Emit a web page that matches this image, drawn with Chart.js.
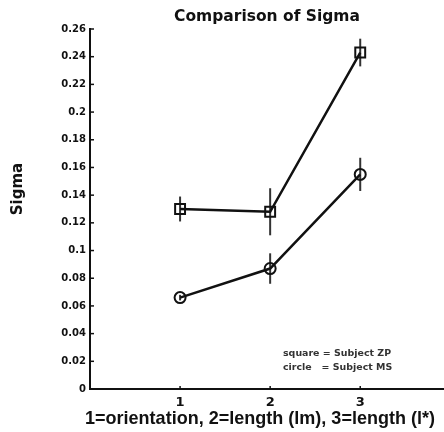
<!DOCTYPE html>
<html>
<head>
<meta charset="utf-8">
<script src="https://cdn.jsdelivr.net/npm/chart.js@4.4.1/dist/chart.umd.min.js"></script>
<style>
  html, body { margin: 0; padding: 0; background: #fff; }
  #wrap { width: 444px; height: 432px; }
</style>
</head>
<body>
<div id="wrap"><canvas id="sigmaChart" width="444" height="432"></canvas></div>
<script>
// condition index on x: 1=orientation, 2=length (lm), 3=length (l*)
const conditions = [1, 2, 3];
const xTickLabels = ['1', '2', '3'];
const yTickValues = [0, 0.02, 0.04, 0.06, 0.08, 0.1, 0.12, 0.14, 0.16, 0.18, 0.2, 0.22, 0.24, 0.26];

// square = Subject ZP
const zpSigma = [0.130, 0.128, 0.243];
const zpErr = [0.009, 0.017, 0.010];
// circle = Subject MS
const msSigma = [0.066, 0.087, 0.155];
const msErr = [0.002, 0.011, 0.012];

const titleText = 'Comparison of Sigma';
const xTitle = '1=orientation, 2=length (lm), 3=length (l*)';
const yTitle = 'Sigma';
const legendLines = ['square = Subject ZP', 'circle   = Subject MS'];

const ink = '#111';
const errs = [zpErr, msErr];

const toPoints = (ys) => conditions.map((x, i) => ({ x: x, y: ys[i] }));

// draw text squeezed/stretched to a given width (the scan is a bit wide)
function fitText(ctx, text, cx, cy, w) {
  const m = ctx.measureText(text).width;
  ctx.save();
  ctx.translate(cx, cy);
  ctx.scale(w / m, 1);
  ctx.fillText(text, 0, 0);
  ctx.restore();
}

// error bars, inward ticks, axis titles and the note
const extras = {
  id: 'extras',
  beforeDatasetsDraw(chart) {
    const ctx = chart.ctx;
    const xs = chart.scales.x, ys = chart.scales.y;
    ctx.save();
    ctx.strokeStyle = '#333';
    ctx.lineWidth = 2;
    chart.data.datasets.forEach((ds, di) => {
      ds.data.forEach((p, i) => {
        const e = errs[di][i];
        const px = xs.getPixelForValue(p.x);
        ctx.beginPath();
        ctx.moveTo(px, ys.getPixelForValue(p.y - e));
        ctx.lineTo(px, ys.getPixelForValue(p.y + e));
        ctx.stroke();
      });
    });
    ctx.restore();
  },
  afterDraw(chart) {
    const ctx = chart.ctx;
    const xs = chart.scales.x, ys = chart.scales.y;
    const a = chart.chartArea;
    ctx.save();
    ctx.strokeStyle = ink;
    ctx.lineWidth = 1.5;
    yTickValues.forEach(v => {
      const py = ys.getPixelForValue(v);
      ctx.beginPath();
      ctx.moveTo(a.left, py);
      ctx.lineTo(a.left + 4, py);
      ctx.stroke();
    });
    conditions.forEach(v => {
      const px = xs.getPixelForValue(v);
      ctx.beginPath();
      ctx.moveTo(px, a.bottom);
      ctx.lineTo(px, a.bottom - 3);
      ctx.stroke();
    });

    ctx.fillStyle = ink;
    ctx.textAlign = 'center';
    ctx.textBaseline = 'middle';
    ctx.font = 'bold 19px "Liberation Sans"';
    fitText(ctx, xTitle, 260, 419, 350);

    ctx.save();
    ctx.translate(18, 189);
    ctx.rotate(-Math.PI / 2);
    ctx.font = 'bold 15px "DejaVu Sans"';
    ctx.fillText(yTitle, 0, 0);
    ctx.restore();

    ctx.textAlign = 'left';
    ctx.font = 'bold 8px "DejaVu Sans"';
    ctx.fillStyle = '#333';
    ctx.save();
    ctx.translate(283, 0);
    ctx.scale(1.18, 1);
    ctx.fillText(legendLines[0], 0, 354);
    ctx.fillText(legendLines[1], 0, 368);
    ctx.restore();
    ctx.restore();
  }
};

new Chart(document.getElementById('sigmaChart').getContext('2d'), {
  type: 'line',
  data: {
    datasets: [
      {
        label: 'Subject ZP',
        data: toPoints(zpSigma),
        borderColor: ink,
        borderWidth: 2.5,
        pointStyle: 'rect',
        pointRadius: 7,
        pointBorderWidth: 2,
        pointBorderColor: ink,
        pointBackgroundColor: 'rgba(0,0,0,0)',
        tension: 0,
      },
      {
        label: 'Subject MS',
        data: toPoints(msSigma),
        borderColor: ink,
        borderWidth: 2.5,
        pointStyle: 'circle',
        pointRadius: 5.5,
        pointBorderWidth: 2,
        pointBorderColor: ink,
        pointBackgroundColor: 'rgba(0,0,0,0)',
        tension: 0,
      },
    ],
  },
  options: {
    responsive: false,
    animation: false,
    layout: { autoPadding: false, padding: 0 },
    plugins: {
      legend: { display: false },
      tooltip: { enabled: false },
      title: {
        display: true,
        text: titleText,
        fullSize: false,
        color: ink,
        font: { family: 'DejaVu Sans', size: 15.5, weight: 'bold', lineHeight: 1.2 },
        padding: { top: 8, bottom: 2.4 },
      },
    },
    scales: {
      x: {
        type: 'linear',
        min: 0,
        max: 3.93,
        afterFit: (s) => { s.height = 43; },
        afterBuildTicks: (s) => { s.ticks = conditions.map(v => ({ value: v })); },
        grid: { display: false, drawTicks: false },
        border: { display: true, color: ink, width: 2 },
        ticks: {
          padding: 6,
          color: ink,
          font: { family: 'DejaVu Sans', size: 13, weight: 'bold' },
          callback: (v) => xTickLabels[conditions.indexOf(v)],
        },
      },
      y: {
        min: 0,
        max: 0.26,
        afterFit: (s) => { s.width = 90; },
        afterBuildTicks: (s) => { s.ticks = yTickValues.map(v => ({ value: v })); },
        grid: { display: false, drawTicks: false },
        border: { display: true, color: ink, width: 2 },
        ticks: {
          padding: 4,
          color: ink,
          font: { family: 'DejaVu Sans', size: 10, weight: 'bold' },
          callback: (v) => String(+v.toFixed(2)),
        },
      },
    },
  },
  plugins: [extras],
});
</script>
</body>
</html>
